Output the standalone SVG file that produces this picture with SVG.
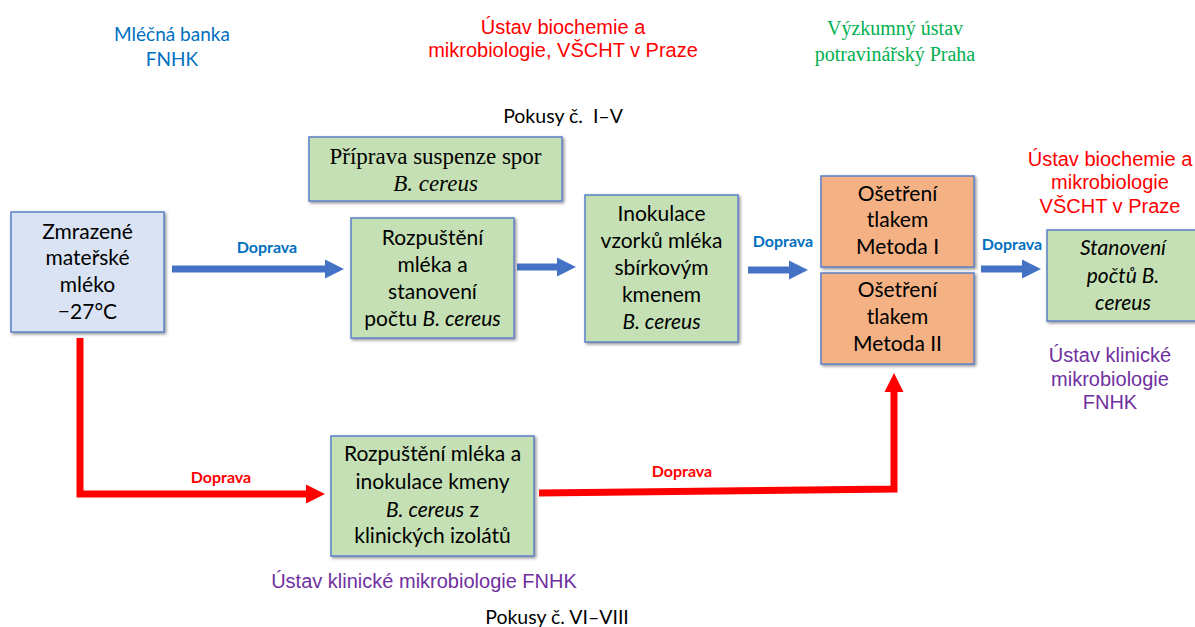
<svg xmlns="http://www.w3.org/2000/svg" width="1195" height="627" viewBox="0 0 1195 627">
<defs>
<filter id="sh" x="-10%" y="-10%" width="130%" height="130%">
<feDropShadow dx="1.5" dy="1.5" stdDeviation="1.5" flood-color="#000" flood-opacity="0.45"/>
</filter>
<marker id="hb" markerUnits="userSpaceOnUse" markerWidth="20" markerHeight="20" refX="0" refY="9.5" orient="auto" viewBox="0 0 20 19">
<path d="M0,0 L19,9.5 L0,19 z" fill="#4472C4"/>
</marker>
<marker id="hr" markerUnits="userSpaceOnUse" markerWidth="20" markerHeight="20" refX="0" refY="9.5" orient="auto" viewBox="0 0 20 19">
<path d="M0,0 L19,9.5 L0,19 z" fill="#FF0000"/>
</marker>
</defs>
<style>
.box{stroke:#5B80C8;stroke-width:1.5;filter:url(#sh)}
.g{fill:#C5E0B4}.b{fill:#DAE3F3}.o{fill:#F4B183}
.t{font-family:Lato,"Liberation Sans",sans-serif;font-size:21px;fill:#000;text-anchor:middle}
.s{font-family:"Liberation Serif",serif;font-size:23px;fill:#000;text-anchor:middle}
.i{font-style:italic}
.ar{font-family:"Liberation Sans",sans-serif;font-size:20px;text-anchor:middle}
.lab{font-family:Lato,"Liberation Sans",sans-serif;font-size:16px;font-weight:bold;text-anchor:middle}
.bl{stroke:#4472C4;stroke-width:7;fill:none;marker-end:url(#hb)}
.rd{stroke:#FF0000;stroke-width:7;fill:none;stroke-linejoin:miter;marker-end:url(#hr)}
</style>
<rect width="1195" height="627" fill="#fff"/>

<g id="labels">
<text class="t" x="172" y="41" style="font-size:19px;fill:#0070C0">Mléčná banka</text>
<text class="t" x="172" y="66" style="font-size:19px;fill:#0070C0">FNHK</text>
<text class="ar" x="563" y="34" fill="#FF0000">Ústav biochemie a</text>
<text class="ar" x="563" y="57" fill="#FF0000">mikrobiologie, VŠCHT v Praze</text>
<text class="s" x="895" y="35" style="font-size:20px;fill:#00B050">Výzkumný ústav</text>
<text class="s" x="895" y="61" style="font-size:20px;fill:#00B050">potravinářský Praha</text>
<text class="t" x="563" y="123" style="font-size:19.5px" xml:space="preserve">Pokusy č.  I–V</text>
<text class="ar" x="1110" y="166" fill="#FF0000">Ústav biochemie a</text>
<text class="ar" x="1110" y="189" fill="#FF0000">mikrobiologie</text>
<text class="ar" x="1110" y="213" fill="#FF0000">VŠCHT v Praze</text>
<text class="ar" x="1110" y="362" fill="#7030A0">Ústav klinické</text>
<text class="ar" x="1110" y="386" fill="#7030A0">mikrobiologie</text>
<text class="ar" x="1110" y="409" fill="#7030A0">FNHK</text>
<text class="ar" x="424" y="588" fill="#7030A0">Ústav klinické mikrobiologie FNHK</text>
<text class="t" x="557" y="624" style="font-size:19.5px">Pokusy č. VI–VIII</text>
</g>

<g id="connectors">
<line class="bl" x1="172" y1="269" x2="325" y2="269"/>
<line class="bl" x1="517" y1="267" x2="557" y2="267"/>
<line class="bl" x1="748" y1="270" x2="789" y2="270"/>
<line class="bl" x1="981" y1="269" x2="1022" y2="269"/>
<polyline class="rd" points="80,338 80,494 306,494"/>
<polyline class="rd" points="539,493 894,489 894,392"/>
<text class="lab" x="267" y="253" fill="#0070C0">Doprava</text>
<text class="lab" x="783" y="247" fill="#0070C0">Doprava</text>
<text class="lab" x="1012" y="250" fill="#0070C0">Doprava</text>
<text class="lab" x="221" y="483" fill="#FF0000">Doprava</text>
<text class="lab" x="682" y="477" fill="#FF0000">Doprava</text>
</g>

<g id="n-mleko">
<rect class="box b" x="11" y="212" width="153" height="120"/>
<text class="t" x="87.5" y="239">Zmrazené</text>
<text class="t" x="87.5" y="265">mateřské</text>
<text class="t" x="87.5" y="292">mléko</text>
<text class="t" x="87.5" y="319">−27°C</text>
</g>

<g id="n-priprava">
<rect class="box g" x="309" y="137" width="253" height="64"/>
<text class="s" x="435.5" y="164">Příprava suspenze spor</text>
<text class="s i" x="435.5" y="191">B. cereus</text>
</g>

<g id="n-rozpusteni">
<rect class="box g" x="351" y="218" width="163" height="120"/>
<text class="t" x="432.5" y="245">Rozpuštění</text>
<text class="t" x="432.5" y="272">mléka a</text>
<text class="t" x="432.5" y="299">stanovení</text>
<text class="t" x="432.5" y="326">počtu <tspan class="i">B. cereus</tspan></text>
</g>

<g id="n-inokulace">
<rect class="box g" x="585" y="195" width="153" height="147"/>
<text class="t" x="661.5" y="221">Inokulace</text>
<text class="t" x="661.5" y="248">vzorků mléka</text>
<text class="t" x="661.5" y="275">sbírkovým</text>
<text class="t" x="661.5" y="302">kmenem</text>
<text class="t i" x="661.5" y="329">B. cereus</text>
</g>

<g id="n-metoda1">
<rect class="box o" x="821" y="176" width="153" height="91"/>
<text class="t" x="897.5" y="201">Ošetření</text>
<text class="t" x="897.5" y="227">tlakem</text>
<text class="t" x="897.5" y="254">Metoda I</text>
</g>

<g id="n-metoda2">
<rect class="box o" x="821" y="273" width="153" height="91"/>
<text class="t" x="897.5" y="297">Ošetření</text>
<text class="t" x="897.5" y="324">tlakem</text>
<text class="t" x="897.5" y="351">Metoda II</text>
</g>

<g id="n-stanoveni">
<rect class="box g" x="1047" y="230" width="152" height="91"/>
<text class="t i" x="1123" y="255">Stanovení</text>
<text class="t i" x="1123" y="283">počtů B.</text>
<text class="t i" x="1123" y="310">cereus</text>
</g>

<g id="n-klinicke">
<rect class="box g" x="331" y="436" width="203" height="120"/>
<text class="t" x="432.5" y="461">Rozpuštění mléka a</text>
<text class="t" x="432.5" y="489">inokulace kmeny</text>
<text class="t" x="432.5" y="517"><tspan class="i">B. cereus</tspan> z</text>
<text class="t" x="432.5" y="543">klinických izolátů</text>
</g>
</svg>
